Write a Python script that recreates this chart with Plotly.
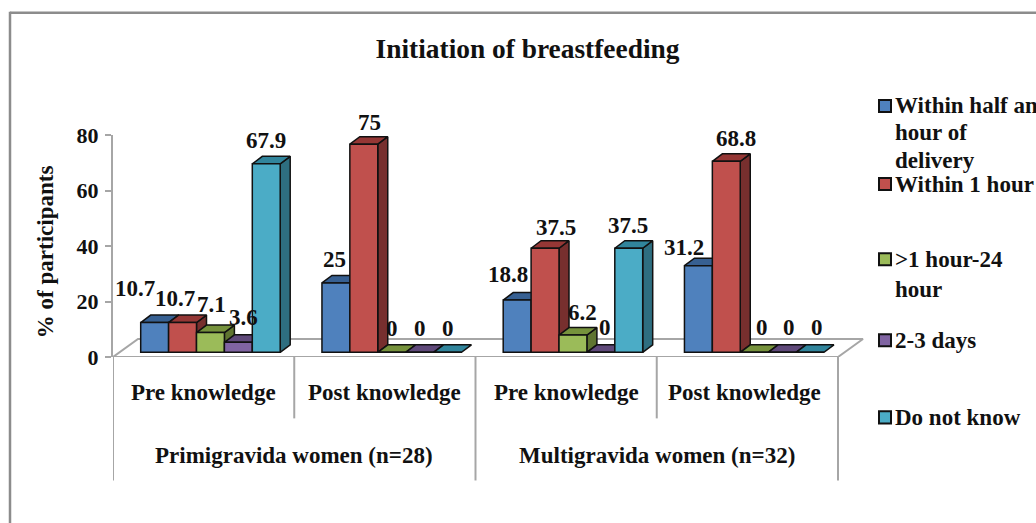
import plotly.graph_objects as go

# ---- data ----
subgroups = ["Pre knowledge", "Post knowledge", "Pre knowledge", "Post knowledge"]
groups = ["Primigravida women (n=28)", "Multigravida women (n=32)"]
half_hour = [10.7, 25, 18.8, 31.2]
one_hour = [10.7, 75, 37.5, 68.8]
day_one = [7.1, 0, 6.2, 0]
two_three_days = [3.6, 0, 0, 0]
do_not_know = [67.9, 0, 37.5, 0]
series_names = ["Within half an<br>hour of<br>delivery", "Within 1 hour",
                ">1 hour-24<br>hour", "2-3 days", "Do not know"]
series_values = [half_hour, one_hour, day_one, two_three_days, do_not_know]

# ---- style ----
front = ["#4F81BD", "#C0504D", "#9BBB59", "#8064A2", "#4BACC6"]
top_c = ["#376092", "#953735", "#76923C", "#5F497A", "#31859C"]
side_c = ["#2F5380", "#772F2E", "#5F7530", "#4E3A68", "#2E6E80"]
FONT = "Liberation Serif"
INK = "#111111"
GRID = "#a6a6a6"
FS = 23
W, H = 1036, 523
L, R, T, B = 113, 870, 135, 356.7
PX_CAT = (838 - 113) / 4
PX_Y = (B - T) / 80
bar_w = 27.9 / PX_CAT
first_off = (140.7 - 113) / PX_CAT
depth_x = 10 / PX_CAT
depth_y = 7.5 / PX_Y
lift = 4.7 / PX_Y
# hand placement of the labels relative to the default spot above each bar (px)
nudge_x = [[-19.5, -1, -9, -14], [-7.5, 6, 11, 10], [1.5, 0, 10, 8], [5, 0, 4, 7], [0, 0, -1, 7]]
nudge_y = [[16, 5, 8, 0], [6, 4, 3, 5], [10, 6, 5, 7], [7, 6, 7, 7], [5, 6, 5, 7]]
subgroup_nudge = [0, 0, 0, -3]
# legend layout (px)
legend_y = [106, 184, 259, 340, 417]
legend_pitch = [27, 27, 30, 27, 27]


def px(x):
    return (x - L) / (R - L)


def py(y):
    return (B - y) / (B - T)


def label(x, y, text, xref="paper", yref="paper", xanchor="center", **kw):
    return dict(x=x, y=y, xref=xref, yref=yref, text=f"<b>{text}</b>", showarrow=False,
                xanchor=xanchor, yanchor="middle",
                font=dict(family=FONT, size=FS, color=INK), **kw)


fig = go.Figure()

# floor of the 3-D box
fig.add_trace(go.Scatter(
    x=[0, 4, 4 + 25 / PX_CAT, 25 / PX_CAT, 0], y=[0, 0, 18 / PX_Y, 18 / PX_Y, 0],
    mode="lines", line=dict(color=GRID, width=2), hoverinfo="skip", showlegend=False,
    cliponaxis=False))

annotations = []
for s, vals in enumerate(series_values):
    xs = [g + first_off + bar_w * s for g in range(4)]
    side_x, side_y, top_x, top_y = [], [], [], []
    for x0, v in zip(xs, vals):
        x1 = x0 + bar_w
        y1 = v + lift
        if v > 0:
            side_x += [x1, x1 + depth_x, x1 + depth_x, x1, x1, None]
            side_y += [lift, lift + depth_y, y1 + depth_y, y1, lift, None]
        top_x += [x0, x1, x1 + depth_x, x0 + depth_x, x0, None]
        top_y += [y1, y1, y1 + depth_y, y1 + depth_y, y1, None]
    for fx, fy, col in ((side_x, side_y, side_c[s]), (top_x, top_y, top_c[s])):
        if fx:
            fig.add_trace(go.Scatter(
                x=fx, y=fy, mode="lines", fill="toself", fillcolor=col,
                line=dict(color="#111111", width=1.5), hoverinfo="skip", showlegend=False,
                cliponaxis=False))
    for g, (x0, v) in enumerate(zip(xs, vals)):
        annotations.append(label(x0 + bar_w / 2, v + lift, f"{v:g}", xref="x", yref="y",
                                 xshift=nudge_x[s][g], yshift=18 + nudge_y[s][g]))

for s, vals in enumerate(series_values):
    fig.add_trace(go.Bar(
        x=[g + first_off + bar_w * (s + 0.5) for g in range(4)], y=vals, base=lift, width=bar_w,
        name=series_names[s].replace("<br>", " "),
        marker=dict(color=front[s], line=dict(color="#111111", width=1.5)),
        xaxis="x2", yaxis="y2", showlegend=False))

for i, g in enumerate(groups):
    annotations.append(label(1 + 2 * i, py(455), g, xref="x"))
annotations.append(label(px(45), py(252), "% of participants", textangle=-90))
for i, t in enumerate(subgroups):
    annotations.append(label(i + 0.5, py(392), t, xref="x", xshift=subgroup_nudge[i]))

shapes = []
for i in range(5):
    shapes.append(dict(type="line", xref="x", yref="paper", x0=i, x1=i, y0=py(B),
                       y1=py(480 if i % 2 == 0 else 418), line=dict(color=GRID, width=2)))
shapes.append(dict(type="line", xref="paper", yref="paper", x0=px(10), x1=px(W), y0=py(13), y1=py(13),
                   line=dict(color="#8c8c8c", width=2.5)))
shapes.append(dict(type="line", xref="paper", yref="paper", x0=px(10), x1=px(10), y0=py(12), y1=py(H),
                   line=dict(color="#8c8c8c", width=2.5)))

# legend: swatch + text, one row per text line
for s, name in enumerate(series_names):
    y0 = legend_y[s]
    shapes.append(dict(type="rect", xref="paper", yref="paper", x0=px(879), x1=px(891),
                       y0=py(y0 - 6), y1=py(y0 + 6), fillcolor=front[s],
                       line=dict(color="#111111", width=2)))
    for j, line in enumerate(name.split("<br>")):
        annotations.append(label(px(895), py(y0 + j * legend_pitch[s]), line, xanchor="left",
                                 xshift=-2))

xr = [0, (R - L) / PX_CAT]
fig.update_layout(
    width=W, height=H, autosize=False,
    margin=dict(l=L, r=W - R, t=T, b=H - B, pad=0, autoexpand=False),
    paper_bgcolor="white", plot_bgcolor="white", barmode="overlay", showlegend=False,
    font=dict(family=FONT, color=INK, size=FS),
    title=dict(text="<b>Initiation of breastfeeding</b>", x=527.5 / W, xanchor="center", y=1 - 48 / H,
               yanchor="middle", font=dict(family=FONT, size=27.4, color=INK)),
    xaxis=dict(range=xr, showgrid=False, zeroline=False, showline=False, showticklabels=False, ticks=""),
    yaxis=dict(range=[0, 80], tickvals=[0, 20, 40, 60, 80], showgrid=False, zeroline=False, showline=True,
               linecolor=GRID, linewidth=2, ticks="outside", ticklen=6, tickwidth=2, tickcolor=GRID,
               ticklabelstandoff=2,
               tickfont=dict(family=FONT, size=22, color=INK, weight="bold")),
    xaxis2=dict(range=xr, overlaying="x", visible=False),
    yaxis2=dict(range=[0, 80], overlaying="y", visible=False),
    annotations=annotations, shapes=shapes,
)

fig.write_html("out.html", config=dict(displayModeBar=False),
               post_script="document.body.style.margin='0';document.body.style.overflow='hidden';")
